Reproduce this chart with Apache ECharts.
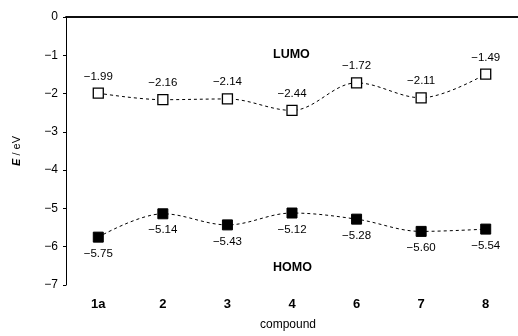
<!DOCTYPE html>
<html>
<head>
<meta charset="utf-8">
<script src="https://cdn.jsdelivr.net/npm/echarts@6/dist/echarts.min.js"></script>
<style>
  html, body { margin: 0; padding: 0; background: #fff; }
  #chart { width: 518px; height: 336px; }
</style>
</head>
<body>
<div id="chart"></div>
<script>
const compounds = ["1a", "2", "3", "4", "6", "7", "8"];
const lumo = [-1.99, -2.16, -2.14, -2.44, -1.72, -2.11, -1.49];
const homo = [-5.75, -5.14, -5.43, -5.12, -5.28, -5.60, -5.54];
const yTicks = [0, -1, -2, -3, -4, -5, -6, -7];

const font = "Arial, 'Liberation Sans', sans-serif";
const minus = (v) => String(v).replace("-", "\u2212");
const fmt2 = (v) => minus(Number(v).toFixed(2));

const chart = echarts.init(document.getElementById("chart"));

const option = {
  animation: false,
  backgroundColor: "#fff",
  textStyle: { fontFamily: font, color: "#000" },
  grid: { left: 66, top: 17, width: 462, height: 271 },
  xAxis: [
    {
      type: "category",
      data: compounds,
      position: "bottom",
      boundaryGap: true,
      axisLine: { lineStyle: { color: "#000", width: 1.5 } },
      axisTick: { show: false },
      axisLabel: { color: "#000", fontWeight: "bold", fontSize: 13, margin: 13, fontFamily: font },
      name: "compound",
      nameLocation: "middle",
      nameGap: 34,
      nameTextStyle: { color: "#000", fontSize: 12, fontFamily: font, padding: [0, 0, 0, -8] }
    },
    {
      type: "category",
      data: compounds,
      position: "top",
      axisLine: { lineStyle: { color: "#000", width: 1.5 } },
      axisTick: { show: false },
      axisLabel: { show: false }
    }
  ],
  yAxis: {
    type: "value",
    min: -7,
    max: 0,
    interval: 1,
    axisLine: { show: true, lineStyle: { color: "#000", width: 1 } },
    axisTick: { show: true, length: 3, lineStyle: { color: "#000" } },
    splitLine: { show: false },
    axisLabel: {
      color: "#000", fontSize: 12, margin: 8, fontFamily: font,
      formatter: (v) => yTicks.includes(v) ? minus(v) : ""
    },
    name: "{i|E} / eV",
    nameLocation: "middle",
    nameGap: 44,
    nameRotate: 90,
    nameTextStyle: {
      color: "#000", fontSize: 11, fontFamily: font,
      rich: { i: { fontStyle: "italic", fontWeight: "bold", fontSize: 11, fontFamily: font } }
    }
  },
  series: [
    {
      name: "LUMO",
      type: "line",
      data: lumo,
      smooth: 0.35,
      symbol: "rect",
      symbolSize: 10,
      itemStyle: { color: "#fff", borderColor: "#000", borderWidth: 1.3 },
      lineStyle: { color: "#000", width: 1, type: [3, 3] },
      label: {
        show: true, position: "top", distance: 5,
        color: "#000", fontSize: 11.5, fontFamily: font,
        formatter: (p) => fmt2(p.value)
      }
    },
    {
      name: "HOMO",
      type: "line",
      data: homo,
      smooth: 0.35,
      symbol: "rect",
      symbolSize: 10,
      itemStyle: { color: "#000", borderColor: "#000", borderWidth: 1 },
      lineStyle: { color: "#000", width: 1, type: [3, 3] },
      label: {
        show: true, position: "bottom", distance: 5,
        color: "#000", fontSize: 11.5, fontFamily: font,
        formatter: (p) => fmt2(p.value)
      }
    }
  ],
  graphic: [
    { type: "text", left: 273, top: 48, style: { text: "LUMO", font: "bold 12.5px " + font, fill: "#000" } },
    { type: "text", left: 273, top: 261, style: { text: "HOMO", font: "bold 12.5px " + font, fill: "#000" } }
  ]
};

chart.setOption(option);
</script>
</body>
</html>
